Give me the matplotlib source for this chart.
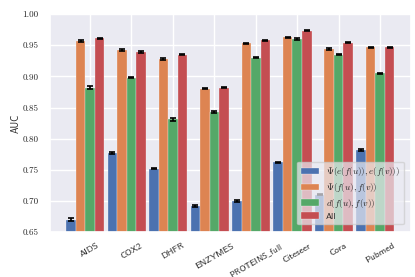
import numpy as np
import matplotlib
matplotlib.use("Agg")
import matplotlib.pyplot as plt
import seaborn as sns

categories = ["AIDS", "COX2", "DHFR", "ENZYMES", r"PROTEINS$\_$full", "Citeseer", "Cora", "Pubmed"]
series_labels = [r"$\Psi(e(f(u)),e(f(v)))$", r"$\Psi(f(u),f(v))$", r"$d(f(u),f(v))$", "All"]
psi_e = [0.670, 0.777, 0.752, 0.692, 0.700, 0.762, 0.710, 0.782]
psi_f = [0.957, 0.942, 0.928, 0.880, 0.953, 0.963, 0.944, 0.947]
dist_f = [0.882, 0.898, 0.831, 0.843, 0.930, 0.960, 0.935, 0.905]
all_f = [0.961, 0.939, 0.935, 0.882, 0.958, 0.973, 0.954, 0.947]
err_psi_e = [0.0025, 0.0010, 0.0010, 0.0020, 0.0015, 0.0010, 0.0010, 0.0010]
err_psi_f = [0.0010, 0.0020, 0.0015, 0.0010, 0.0010, 0.0008, 0.0010, 0.0010]
err_dist_f = [0.0020, 0.0010, 0.0020, 0.0020, 0.0010, 0.0010, 0.0010, 0.0010]
err_all_f = [0.0010, 0.0020, 0.0010, 0.0010, 0.0008, 0.0008, 0.0010, 0.0010]

sns.set_theme(style="darkgrid")
plt.rcParams["mathtext.fontset"] = "cm"

colors = ["#4C72B0", "#DD8452", "#55A868", "#C44E52"]
series = [psi_e, psi_f, dist_f, all_f]
errs = [err_psi_e, err_psi_f, err_dist_f, err_all_f]

fig = plt.figure(figsize=(4.15, 2.77), dpi=100)
ax = fig.add_axes([0.120, 0.162, 0.870, 0.787])

x = np.arange(len(categories))
w = 0.23
for k, (vals, e, c, lab) in enumerate(zip(series, errs, colors, series_labels)):
    ax.bar(x + (k - 2) * w, vals, width=w, color=c, label=lab,
           yerr=e, capsize=2, error_kw=dict(elinewidth=1.2, capthick=1.2, ecolor="black"),
           edgecolor="white", linewidth=0.2)

ax.set_ylim(0.65, 1.0)
ax.set_yticks(np.arange(0.65, 1.001, 0.05))
ax.set_yticklabels([f"{v:.2f}" for v in np.arange(0.65, 1.001, 0.05)], family="cmr10", fontsize=6.5)
ax.set_xticks(x)
labels = ax.set_xticklabels(categories, rotation=30, ha="center", family=["cmss10", "DejaVu Sans"], fontsize=6.8)
labels[4].set_fontsize(6.3)
ax.tick_params(axis="both", pad=2)
ax.tick_params(axis="x", pad=1.0)
ax.set_ylabel("AUC", family="cmss10", fontsize=7, labelpad=1)

leg = ax.legend(loc="lower right", prop={"family": ["cmss10"], "size": 6.5},
                borderpad=0.4, labelspacing=0.3, handlelength=2.0, framealpha=0.7,
                bbox_to_anchor=(0.993, 0.015))
fig.savefig("out.png", dpi=100)
